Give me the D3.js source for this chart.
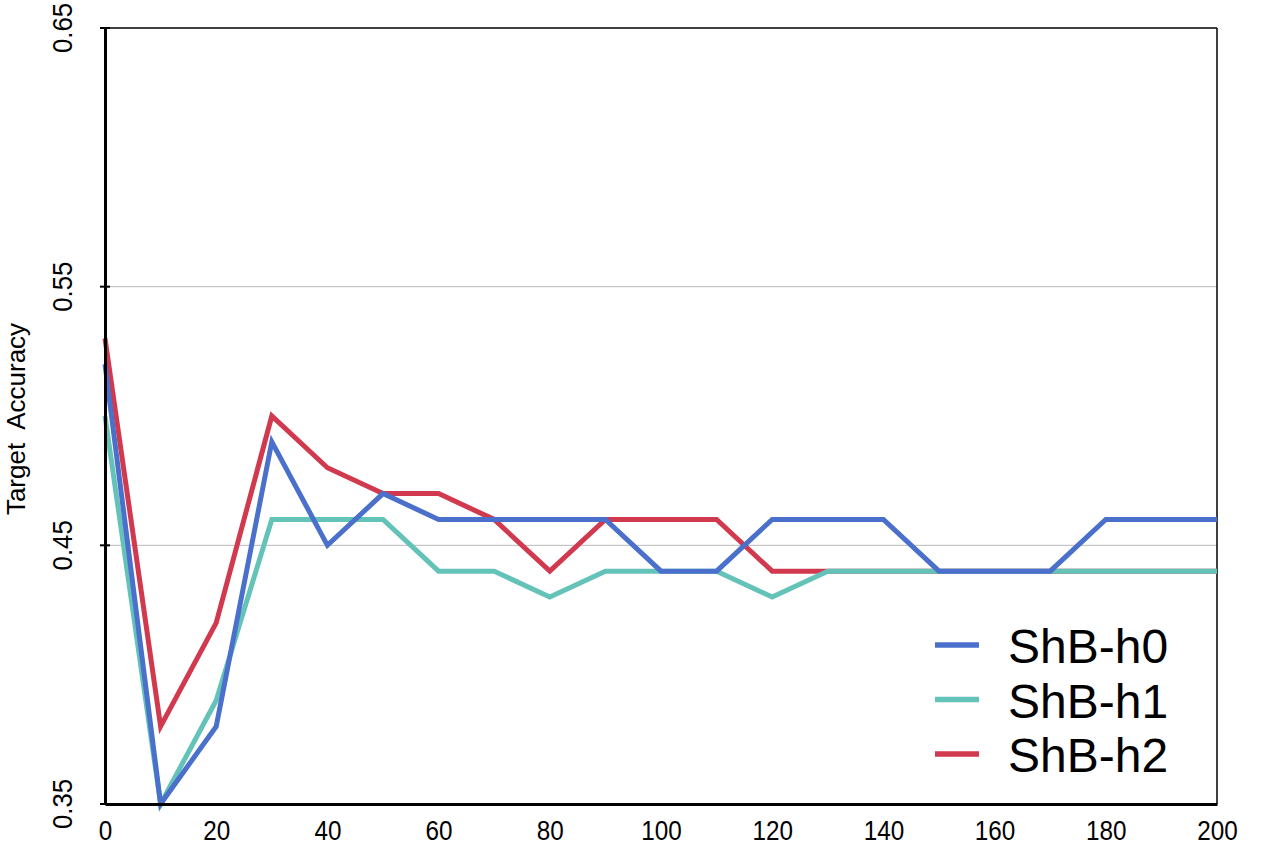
<!DOCTYPE html>
<html><head><meta charset="utf-8">
<script src="https://cdn.jsdelivr.net/npm/d3@7"></script>
<style>body{margin:0;background:#fff}svg{display:block}</style>
</head><body>
<svg id="c" width="1282" height="846"></svg>
<script>
const xs = [0,10,20,30,40,50,60,70,80,90,100,110,120,130,140,150,160,170,180,190,200];
const h0 = [0.52,0.35,0.38,0.49,0.45,0.47,0.46,0.46,0.46,0.46,0.44,0.44,0.46,0.46,0.46,0.44,0.44,0.44,0.46,0.46,0.46];
const h1 = [0.50,0.35,0.39,0.46,0.46,0.46,0.44,0.44,0.43,0.44,0.44,0.44,0.43,0.44,0.44,0.44,0.44,0.44,0.44,0.44,0.44];
const h2 = [0.53,0.38,0.42,0.50,0.48,0.47,0.47,0.46,0.44,0.46,0.46,0.46,0.44,0.44,0.44,0.44,0.44,0.44,0.44,0.44,0.44];
const seriesNames = ["ShB-h0","ShB-h1","ShB-h2"];
const colors = ["#4a70cc","#64c3b9","#d1394f"];
const xTicks = [0,20,40,60,80,100,120,140,160,180,200];
const yTicks = [0.35,0.45,0.55,0.65];
const yLabel = "Target  Accuracy";

const svg = d3.select("#c");
const L=105, R=1217, T=28, B=804;
const x = d3.scaleLinear().domain([0,200]).range([L,R]);
const y = d3.scaleLinear().domain([0.35,0.65]).range([B,T]);
const font = "'Liberation Sans',Arial,sans-serif";

// grid
svg.append("g").selectAll("line").data([0.45,0.55]).join("line")
  .attr("x1",L).attr("x2",R).attr("y1",d=>y(d)).attr("y2",d=>y(d))
  .attr("stroke","#b8b8b8").attr("stroke-width",1);

// frame top/right
svg.append("line").attr("x1",L).attr("x2",R).attr("y1",T).attr("y2",T).attr("stroke","#000").attr("stroke-width",1.5);
svg.append("line").attr("x1",R).attr("x2",R).attr("y1",T).attr("y2",B).attr("stroke","#000").attr("stroke-width",1.5);

// lines: red bottom, teal, blue top
const data = [h0,h1,h2];
const line = d3.line().x((d,i)=>x(xs[i])).y(d=>y(d));
[2,1,0].forEach(k=>{
  svg.append("path").datum(data[k]).attr("d",line).attr("fill","none")
    .attr("stroke",colors[k]).attr("stroke-width",5).attr("stroke-linejoin","miter");
});

// y axis
const ya = svg.append("g").attr("transform",`translate(${L},0)`)
  .call(d3.axisLeft(y).tickValues(yTicks).tickSize(0).tickFormat(""));
ya.select(".domain").attr("stroke","#000").attr("stroke-width",3);
svg.append("g").selectAll("line").data(yTicks).join("line")
  .attr("x1",L-5).attr("x2",L+5).attr("y1",d=>y(d)).attr("y2",d=>y(d))
  .attr("stroke","#000").attr("stroke-width",2);
svg.append("g").selectAll("text").data(yTicks).join("text")
  .attr("transform",d=>`translate(72,${y(d)}) rotate(-90) scale(0.92,1)`)
  .attr("text-anchor","middle").attr("font-family",font).attr("font-size",28)
  .text(d=>d3.format(".2f")(d));
svg.append("text").attr("transform",`translate(25,${(T+B)/2+3}) rotate(-90)`)
  .attr("text-anchor","middle").attr("font-family",font).attr("font-size",26)
  .attr("xml:space","preserve").style("white-space","pre").text(yLabel);

// x axis
const xa = svg.append("g").attr("transform",`translate(0,${B})`)
  .call(d3.axisBottom(x).tickValues(xTicks).tickSize(0).tickFormat(d3.format("d")));
xa.select(".domain").attr("stroke","#000").attr("stroke-width",3);
xa.selectAll("text").attr("font-family",font).attr("font-size",27).attr("fill","#000")
  .attr("y",36).attr("dy",null).attr("transform","scale(0.9,1)");

// legend
const lg = svg.append("g");
seriesNames.forEach((n,i)=>{
  const yy = 645 + i*54.5;
  lg.append("line").attr("x1",935).attr("x2",979).attr("y1",yy).attr("y2",yy)
    .attr("stroke",colors[i]).attr("stroke-width",5.5);
  lg.append("text").attr("x",1008).attr("y",yy+18).attr("font-family",font)
    .attr("font-size",48).attr("fill","#000").text(n);
});
</script>
</body></html>
